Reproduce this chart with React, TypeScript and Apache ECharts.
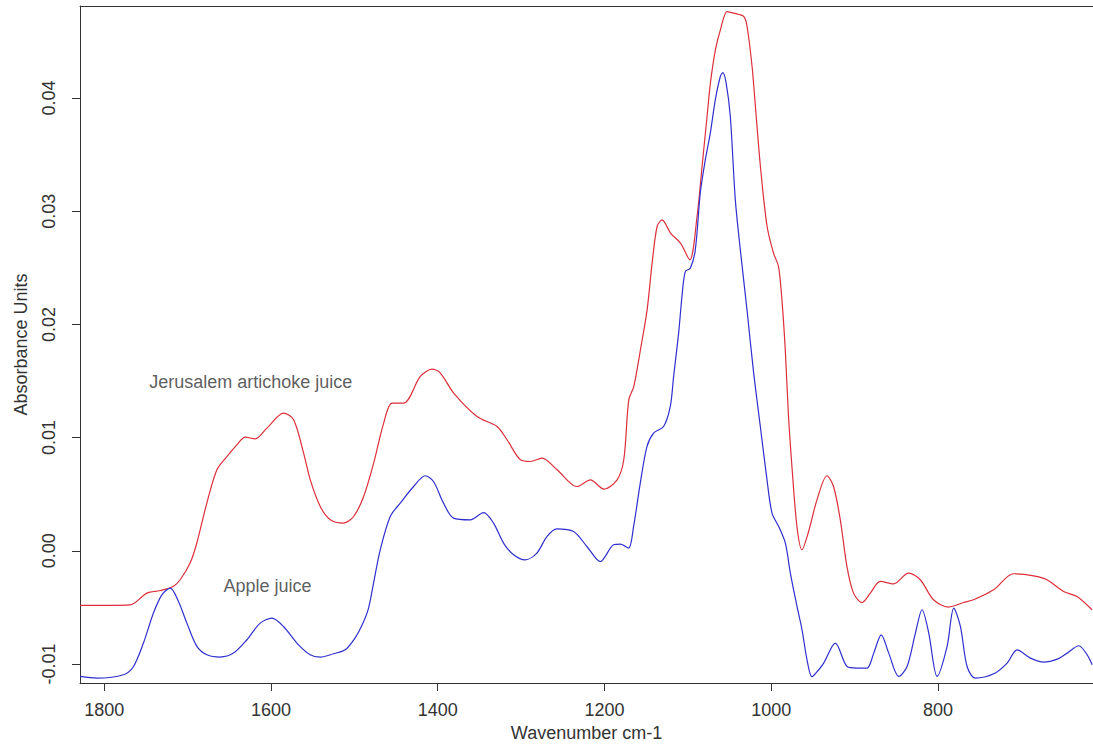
import React, { useEffect, useRef } from "react";
import * as echarts from "echarts";

// Wavenumber (cm-1) and absorbance
const redX = [1828.8, 1768.8, 1748.8, 1732.8, 1717.2, 1708.8, 1696.8, 1688.8, 1676.8, 1664.8, 1652.8, 1640.8, 1630.8, 1618.8, 1604.8, 1584.8, 1572.8, 1560.8, 1552.8, 1540.8, 1528.8, 1512.8, 1500.8, 1488.8, 1476.8, 1464.8, 1454.8, 1440.8, 1420.8, 1406.8, 1396.8, 1380.8, 1352.8, 1328.8, 1316.8, 1300.8, 1288.8, 1274.8, 1256.8, 1232.8, 1216.8, 1200.8, 1184.8, 1176.8, 1170.8, 1164.8, 1156.8, 1148.8, 1142.8, 1136.8, 1130.8, 1120.8, 1108.8, 1097.6, 1088.9, 1082.9, 1076.9, 1072.9, 1066.9, 1060.9, 1052.9, 1044.9, 1032.9, 1028.9, 1022.9, 1018.9, 1012.9, 1004.9, 997.2, 991.2, 987.1, 983.1, 979.2, 975.1, 969.1, 963.1, 955.2, 945.1, 933.1, 925.2, 917.1, 909.1, 901.2, 891.1, 881.1, 869.1, 853.2, 835.2, 821.2, 805.3, 787.3, 769.3, 757.3, 733.3, 709.3, 685.3, 669.2, 649.3, 633.2, 615.2];
const redY = [-0.00483, -0.00477, -0.00374, -0.00351, -0.00315, -0.00256, -0.00106, 0.00071, 0.00424, 0.00716, 0.00833, 0.00936, 0.01004, 0.00989, 0.01084, 0.01216, 0.01157, 0.00863, 0.00627, 0.00391, 0.00274, 0.00245, 0.00303, 0.0048, 0.00775, 0.01128, 0.01305, 0.01305, 0.0154, 0.01605, 0.0157, 0.01393, 0.01186, 0.01098, 0.00981, 0.00804, 0.00789, 0.00819, 0.00716, 0.00568, 0.00627, 0.00545, 0.00627, 0.00804, 0.01334, 0.01451, 0.01776, 0.02129, 0.02542, 0.02865, 0.02924, 0.02807, 0.02718, 0.02571, 0.02953, 0.03395, 0.03837, 0.04132, 0.04426, 0.04602, 0.04764, 0.0475, 0.0472, 0.04632, 0.04278, 0.03925, 0.03395, 0.02865, 0.0263, 0.02511, 0.02217, 0.01776, 0.01186, 0.00745, 0.00215, 0.00009, 0.00168, 0.0045, 0.00663, 0.00568, 0.00274, -0.00139, -0.00374, -0.00457, -0.00374, -0.00271, -0.00292, -0.00197, -0.00256, -0.00433, -0.00497, -0.00457, -0.00433, -0.00345, -0.00203, -0.00221, -0.00256, -0.0036, -0.00404, -0.00521];

const blueX = [1828.8, 1808.8, 1776.8, 1764.8, 1752.9, 1740.9, 1730.8, 1720.8, 1710.9, 1700.8, 1688.8, 1676.8, 1660.9, 1644.9, 1628.8, 1612.9, 1598.8, 1584.9, 1568.9, 1552.9, 1540.9, 1524.9, 1510.9, 1499, 1490.5, 1482.9, 1476.9, 1468.9, 1456.9, 1444.9, 1428.9, 1414.9, 1405, 1393, 1381, 1361, 1345, 1333, 1321, 1309, 1295, 1281, 1269, 1257, 1237, 1221, 1205, 1189, 1181, 1171, 1165, 1157, 1149, 1141, 1129, 1121, 1117, 1111, 1107, 1103, 1097, 1091, 1085, 1079, 1073, 1067, 1061, 1058, 1054, 1049, 1043, 1037, 1029, 1021, 1013, 1005, 999, 991, 983, 977, 969, 963, 957, 951, 943, 937, 923, 909, 897, 885, 877, 868, 859, 847, 837, 827, 819, 811, 801, 789, 781, 773, 765, 755, 733, 717, 705, 689, 673, 657, 645, 631, 621, 615];
const blueY = [-0.0111, -0.01125, -0.01095, -0.01022, -0.00815, -0.0055, -0.00389, -0.0033, -0.00448, -0.00639, -0.00845, -0.00919, -0.00939, -0.00904, -0.00786, -0.00639, -0.00595, -0.00669, -0.00815, -0.00919, -0.00939, -0.0091, -0.00875, -0.00769, -0.00654, -0.00506, -0.00285, 0.00009, 0.00303, 0.00421, 0.00568, 0.00663, 0.00612, 0.00421, 0.00289, 0.00274, 0.00338, 0.00245, 0.00068, -0.00035, -0.0008, -0.0002, 0.00126, 0.00194, 0.0017, 0.00038, -0.00095, 0.00053, 0.00059, 0.00024, 0.00215, 0.00598, 0.00921, 0.0104, 0.01098, 0.01275, 0.0154, 0.01923, 0.02247, 0.02467, 0.02497, 0.02659, 0.03163, 0.03454, 0.0369, 0.03984, 0.0419, 0.04225, 0.04132, 0.03837, 0.031, 0.02659, 0.02129, 0.0157, 0.01098, 0.00627, 0.00333, 0.00215, 0.00068, -0.00197, -0.00492, -0.00698, -0.00963, -0.01113, -0.01051, -0.00992, -0.00815, -0.01022, -0.01036, -0.01036, -0.00904, -0.00742, -0.00904, -0.0111, -0.01022, -0.00727, -0.00521, -0.00727, -0.0111, -0.00845, -0.00506, -0.00669, -0.01022, -0.01125, -0.01087, -0.00992, -0.00875, -0.00948, -0.00983, -0.00957, -0.00904, -0.00839, -0.00919, -0.01007];

const xTicks = [1800, 1600, 1400, 1200, 1000, 800];
const yTicks = [-0.01, 0, 0.01, 0.02, 0.03, 0.04];
const xRange = [614, 1829];
const yRange = [-0.01168, 0.04813];

const labelTexts = ["Jerusalem artichoke juice", "Apple juice"];
const labelX = [1746, 1657];
const labelY = [0.0149, -0.0031];

const FONT = "'Liberation Sans', Arial, sans-serif";
const FS = 18;

export default function App() {
  const ref = useRef<HTMLDivElement>(null);
  useEffect(() => {
    if (!ref.current) return;
    const chart = echarts.init(ref.current, null, { renderer: "svg" });
    const red = redX.map((x, i) => [x, redY[i]]);
    const blue = blueX.map((x, i) => [x, blueY[i]]);
    const notes = labelTexts.map((t, i) => ({ value: [labelX[i], labelY[i]], name: t }));
    const axisCommon = {
      type: "value" as const,
      min: xRange[0],
      max: xRange[1],
      inverse: true,
      splitLine: { show: false },
    };
    chart.setOption({
      animation: false,
      backgroundColor: "#ffffff",
      grid: { left: 80, right: 0, top: 6, bottom: 68 },
      xAxis: [
        {
          ...axisCommon,
          position: "bottom",
          name: "Wavenumber cm-1",
          nameLocation: "middle",
          nameGap: 41,
          nameTextStyle: { color: "#333", fontSize: FS, fontFamily: FONT },
          axisLine: { show: true, onZero: false, lineStyle: { color: "#333", width: 1 } },
          axisTick: { show: true, length: 8, customValues: xTicks, lineStyle: { color: "#333" } },
          axisLabel: {
            customValues: xTicks,
            color: "#333",
            fontSize: FS,
            fontFamily: FONT,
            margin: 18,
            formatter: (v: number) => String(v),
          },
        },
        {
          ...axisCommon,
          position: "top",
          axisLine: { show: true, onZero: false, lineStyle: { color: "#333", width: 1 } },
          axisTick: { show: false },
          axisLabel: { show: false },
        },
      ],
      yAxis: {
        type: "value",
        min: yRange[0],
        max: yRange[1],
        splitLine: { show: false },
        name: "Absorbance Units",
        nameLocation: "middle",
        nameGap: 50,
        nameTextStyle: { color: "#333", fontSize: FS, fontFamily: FONT },
        axisLine: { show: true, onZero: false, lineStyle: { color: "#333", width: 1 } },
        axisTick: { show: true, length: 8, customValues: yTicks, lineStyle: { color: "#333" } },
        axisLabel: {
          customValues: yTicks,
          rotate: 90,
          color: "#333",
          fontSize: FS,
          fontFamily: FONT,
          margin: 22,
          formatter: (v: number) => v.toFixed(2),
        },
      },
      series: [
        {
          type: "line",
          data: red,
          showSymbol: false,
          smooth: 0.3,
          lineStyle: { color: "#dc2f3a", width: 1.2 },
          itemStyle: { color: "#dc2f3a" },
        },
        {
          type: "line",
          data: blue,
          showSymbol: false,
          smooth: 0.3,
          lineStyle: { color: "#2f2fcf", width: 1.2 },
          itemStyle: { color: "#2f2fcf" },
        },
        {
          type: "scatter",
          data: notes,
          symbolSize: 0,
          label: {
            show: true,
            position: "right",
            distance: 0,
            formatter: (p: any) => p.name,
            color: "#333",
            fontSize: FS,
            fontFamily: FONT,
          },
        },
      ],
    });
    return () => chart.dispose();
  }, []);
  return (
    <div
      ref={ref}
      style={{ position: "fixed", left: 0, top: 0, width: 1093, height: 751, background: "#fff" }}
    />
  );
}
